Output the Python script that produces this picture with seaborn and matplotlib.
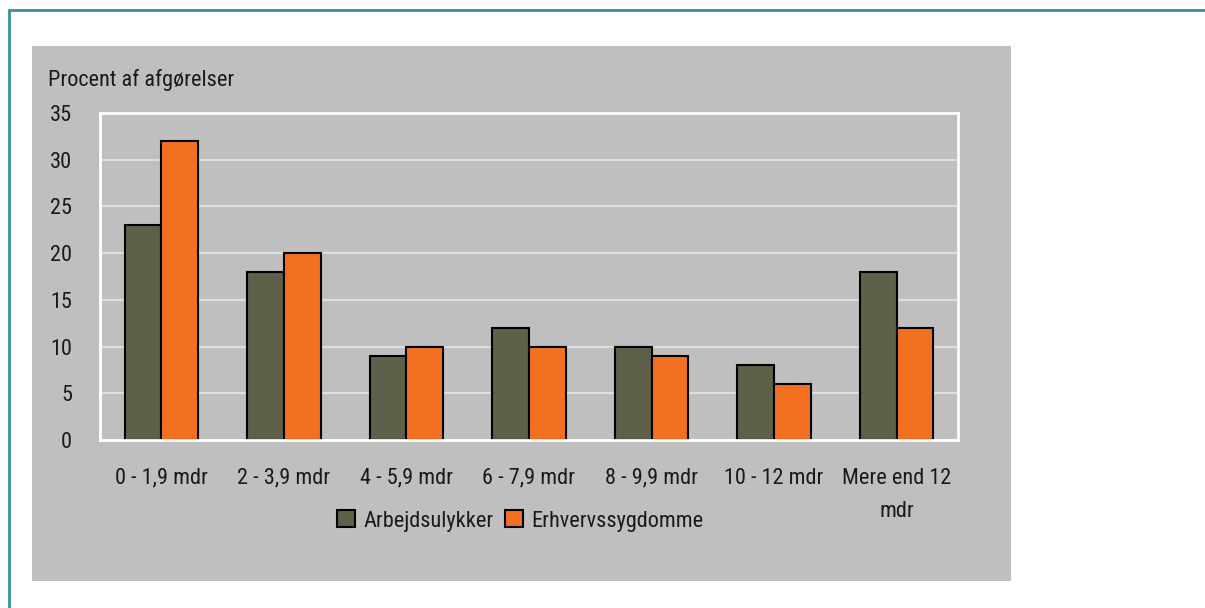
import matplotlib
matplotlib.use("Agg")
import matplotlib.pyplot as plt
from matplotlib.patches import Rectangle
from matplotlib import font_manager
import seaborn as sns
import pandas as pd

categories = ['0 - 1,9 mdr', '2 - 3,9 mdr', '4 - 5,9 mdr', '6 - 7,9 mdr',
              '8 - 9,9 mdr', '10 - 12 mdr', 'Mere end 12\nmdr']
arbejdsulykker = [23, 18, 9, 12, 10, 8, 18]
erhvervssygdomme = [32, 20, 10, 10, 9, 6, 12]
series = ['Arbejdsulykker', 'Erhvervssygdomme']
colors = ['#5f604a', '#f47021']

df = pd.DataFrame({
    'Kategori': categories * 2,
    'Procent': arbejdsulykker + erhvervssygdomme,
    'Serie': [series[0]] * len(categories) + [series[1]] * len(categories),
})

sns.set_style('white')
names = {f.name for f in font_manager.fontManager.ttflist}
fam = [f for f in ['Liberation Sans Narrow', 'Roboto Condensed', 'Open Sans Condensed'] if f in names]
plt.rcParams['font.family'] = fam + ['DejaVu Sans']

fig = plt.figure(figsize=(12.05, 6.08), dpi=100)
W, H = 1205, 608
FS = 16

# outer teal frame lines (top and left)
fig.add_artist(plt.Line2D([9 / W, 1], [1 - 10 / H, 1 - 10 / H], color='#3a8ea0', lw=2))
fig.add_artist(plt.Line2D([9 / W, 9 / W], [0, 1 - 10 / H], color='#3a8ea0', lw=2))
# gray chart area
fig.add_artist(Rectangle((32 / W, 1 - 581 / H), (1011 - 32) / W, (581 - 46) / H,
                         facecolor='#bfbfbf', edgecolor='none', zorder=0))

ax = fig.add_axes([100 / W, 1 - 440 / H, (958 - 100) / W, (440 - 113) / H])
ax.set_facecolor('#bfbfbf')
sns.barplot(data=df, x='Kategori', y='Procent', hue='Serie', palette=colors,
            width=0.6, edgecolor='black', linewidth=1.5, saturation=1, ax=ax)

ax.set_ylim(0, 35)
ax.set_yticks(range(0, 36, 5))
ax.grid(axis='y', color='#dedede', lw=1.5)
ax.set_axisbelow(True)
for s in ax.spines.values():
    s.set_visible(True)
    s.set_color('white')
    s.set_linewidth(2)
ax.tick_params(length=0, labelsize=FS, colors='#1a1a1a')
ax.tick_params(axis='x', pad=20)
ax.tick_params(axis='y', pad=20)
for lab in ax.get_xticklabels():
    lab.set_linespacing(1.75)
ax.set_xlabel('')
ax.set_ylabel('')

fig.text(48 / W, 1 - 80 / H, 'Procent af afgørelser', fontsize=FS,
         color='#1a1a1a', va='center', ha='left')

ax.legend(loc='center', bbox_to_anchor=(0.49, -0.248), ncol=2, frameon=False,
          fontsize=FS, handlelength=0.8, handleheight=0.8, handletextpad=0.4,
          columnspacing=0.5, labelcolor='#1a1a1a')

fig.savefig('out.png', dpi=100)
